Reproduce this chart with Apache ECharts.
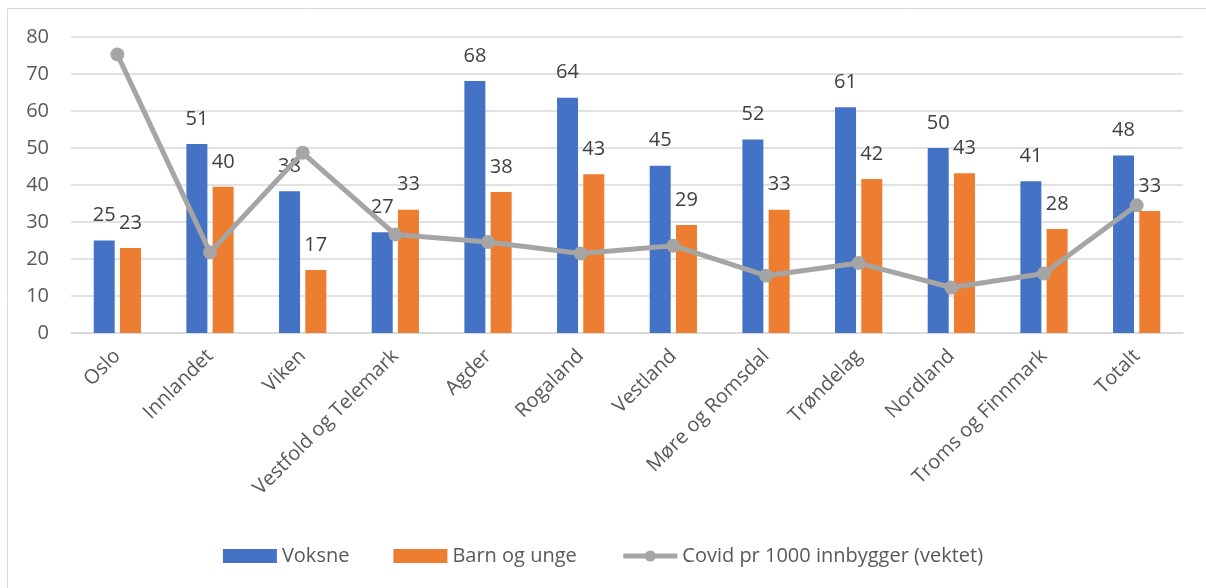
<!DOCTYPE html>
<html>
<head>
<meta charset="utf-8">
<script src="https://cdn.jsdelivr.net/npm/echarts@6/dist/echarts.min.js"></script>
<style>
html,body{margin:0;padding:0;background:#fff;}
#chart{width:1206px;height:588px;}
</style>
</head>
<body>
<div id="chart"></div>
<script>
const categories = ['Oslo','Innlandet','Viken','Vestfold og Telemark','Agder','Rogaland','Vestland','Møre og Romsdal','Trøndelag','Nordland','Troms og Finnmark','Totalt'];
const voksne = [25.0, 51.1, 38.3, 27.2, 68.1, 63.6, 45.2, 52.3, 61.0, 50.0, 41.0, 48.0];
const barnOgUnge = [23.0, 39.5, 17.0, 33.3, 38.1, 42.9, 29.2, 33.3, 41.6, 43.2, 28.1, 33.0];
const covid = [75.3, 21.8, 48.7, 26.6, 24.6, 21.5, 23.6, 15.5, 18.9, 12.3, 16.1, 34.5];
const yTicks = [0, 10, 20, 30, 40, 50, 60, 70, 80];

const FONT = '"Open Sans", "Noto Sans", sans-serif';
const chart = echarts.init(document.getElementById('chart'), null, {renderer: 'canvas'});
const labelCfg = {
  show: true, position: 'top', distance: 15,
  color: '#404040', fontSize: 20, fontFamily: FONT,
  formatter: p => Math.round(p.value)
};
chart.setOption({
  animation: false,
  backgroundColor: '#ffffff',
  graphic: [{
    type: 'rect', shape: {x: 7.5, y: 8.5, width: 1220, height: 600},
    style: {fill: 'none', stroke: '#d9d9d9', lineWidth: 1}, silent: true, z: -1
  }],
  grid: {left: 71, right: 23, top: 37, bottom: 255, containLabel: false},
  legend: {
    top: 541, left: 'center', itemGap: 44, itemWidth: 54, itemHeight: 14,
    textStyle: {color: '#595959', fontSize: 20, fontFamily: FONT},
    data: [
      {name: 'Voksne', icon: 'rect'},
      {name: 'Barn og unge', icon: 'rect'},
      {name: 'Covid pr 1000 innbygger (vektet)', lineStyle: {width: 5, color: '#A5A5A5'}}
    ]
  },
  xAxis: {
    type: 'category', data: categories,
    axisLine: {lineStyle: {color: '#d9d9d9', width: 1.5}},
    axisTick: {show: false},
    axisLabel: {rotate: 45, color: '#595959', fontSize: 20, fontFamily: FONT, margin: 20, interval: 0}
  },
  yAxis: {
    type: 'value', min: yTicks[0], max: yTicks[yTicks.length - 1], interval: 10,
    axisLine: {show: false}, axisTick: {show: false},
    axisLabel: {color: '#595959', fontSize: 20, fontFamily: FONT, margin: 22},
    splitLine: {lineStyle: {color: '#d9d9d9', width: 1.5}}
  },
  series: [
    {name: 'Voksne', type: 'bar', data: voksne, barWidth: 21, barGap: '25%',
     itemStyle: {color: '#4472C4'}, label: labelCfg},
    {name: 'Barn og unge', type: 'bar', data: barnOgUnge, barWidth: 21,
     itemStyle: {color: '#ED7D31'}, label: labelCfg},
    {name: 'Covid pr 1000 innbygger (vektet)', type: 'line', data: covid,
     symbol: 'circle', symbolSize: 14,
     lineStyle: {color: '#A5A5A5', width: 5},
     itemStyle: {color: '#A5A5A5'}, z: 5}
  ]
});
</script>
</body>
</html>
